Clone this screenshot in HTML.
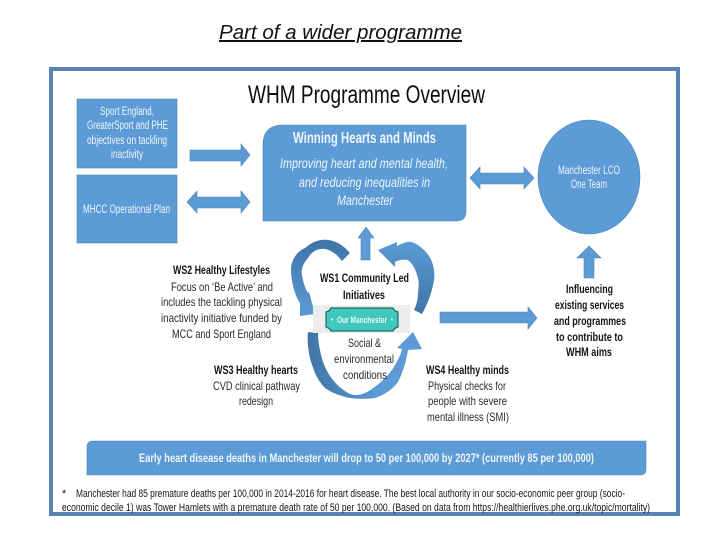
<!DOCTYPE html>
<html>
<head>
<meta charset="utf-8">
<style>
html,body{margin:0;padding:0;background:#fff;width:720px;height:540px;overflow:hidden}
svg{display:block}
text{font-family:"Liberation Sans",sans-serif}
.w{fill:#eef5fb}
.k{fill:#141414}
.g{fill:#2a2a2a}
.b{font-weight:bold}
.s{fill:#5b9bd5;stroke:#4a84b8;stroke-width:.6}
</style>
</head>
<body>
<svg width="720" height="540" viewBox="0 0 720 540" xmlns="http://www.w3.org/2000/svg">
<defs>
<linearGradient id="d" x1="0" y1="1" x2="0" y2="0"><stop offset="0" stop-color="#5b9bd5"/><stop offset="1" stop-color="#3f74a6"/></linearGradient>
<linearGradient id="r" x1="0" y1="0" x2="0" y2="1"><stop offset="0" stop-color="#5b9bd5"/><stop offset="1" stop-color="#3f74a6"/></linearGradient>
<linearGradient id="u" x1="0" y1="0" x2="1" y2="0"><stop offset="0" stop-color="#3f74a6"/><stop offset=".6" stop-color="#5b9bd5"/></linearGradient>
<filter id="bl" x="-5%" y="-5%" width="110%" height="110%"><feGaussianBlur stdDeviation="0.3"/></filter>
</defs>

<text x="219" y="39" font-size="20" font-style="italic" text-decoration="underline" fill="#111" textLength="243" lengthAdjust="spacingAndGlyphs">Part of a wider programme</text>

<rect x="51" y="69" width="627" height="445" fill="#fff" stroke="#5a83b4" stroke-width="4"/>

<g filter="url(#bl)">
<text x="248" y="103" font-size="25" fill="#111" textLength="237" lengthAdjust="spacingAndGlyphs">WHM Programme Overview</text>

<!-- left boxes -->
<rect x="77" y="99" width="100" height="69" class="s"/>
<rect x="77" y="175" width="100" height="68" class="s"/>
<g class="w" font-size="11.5">
<text x="100" y="115" textLength="54" lengthAdjust="spacingAndGlyphs">Sport England,</text>
<text x="87" y="129" textLength="81" lengthAdjust="spacingAndGlyphs">GreaterSport and PHE</text>
<text x="87" y="144" textLength="80" lengthAdjust="spacingAndGlyphs">objectives on tackling</text>
<text x="111" y="158" textLength="32" lengthAdjust="spacingAndGlyphs">inactivity</text>
<text x="83" y="213" textLength="87" lengthAdjust="spacingAndGlyphs">MHCC Operational Plan</text>
</g>

<!-- arrows -->
<polygon class="s" points="190,150 241,150 241,144 250,155 241,166 241,161 190,161"/>
<polygon class="s" points="187,202 197,191 197,197 241,197 241,191 250,202 241,213 241,208 197,208 197,213"/>
<polygon class="s" points="470,178 480,167 480,173 524,173 524,167 534,178 524,189 524,184 480,184 480,189"/>
<polygon class="s" points="440,312 528,312 528,307 537,318 528,329 528,323 440,323"/>
<polygon class="s" points="589,246 601,258 594,258 594,278 584,278 584,258 577,258"/>
<polygon class="s" points="366,227 374,238 370,238 370,260 361,260 361,238 358,238"/>

<!-- main box -->
<path d="M283,125 H466 V211 Q466,221 456,221 H263 V145 Q263,125 283,125 Z" class="s"/>
<text x="293" y="143" font-size="16" class="w b" textLength="143" lengthAdjust="spacingAndGlyphs">Winning Hearts and Minds</text>
<g class="w" font-size="13.5" font-style="italic">
<text x="280" y="168" textLength="168" lengthAdjust="spacingAndGlyphs">Improving heart and mental health,</text>
<text x="299" y="187" textLength="131" lengthAdjust="spacingAndGlyphs">and reducing inequalities in</text>
<text x="337" y="205" textLength="56" lengthAdjust="spacingAndGlyphs">Manchester</text>
</g>

<!-- circle -->
<ellipse cx="589" cy="177" rx="51" ry="57" class="s"/>
<text x="558" y="174" font-size="11.5" class="w" textLength="62" lengthAdjust="spacingAndGlyphs">Manchester LCO</text>
<text x="571" y="188" font-size="11.5" class="w" textLength="36" lengthAdjust="spacingAndGlyphs">One Team</text>

<!-- curved arrows -->
<path fill="url(#d)" d="M350,253 L342,261 C336,253 330,250 325,249 C316,248 311,253 308,258 C302,265 301,270 302,275 C303,282 305,288 308,293 L309,292 L315,314 L300,316 L300,303 C295,296 291,282 291,268 C292,258 298,251 305,248 C313,241 321,239 328,240 C337,241 344,246 350,253 Z"/>
<path fill="url(#r)" d="M378,250 L397,242 L397,246 C403,243 408,241 412,242 C422,246 429,254 432,262 C435,270 435,278 433,285 C431,295 427,305 422,314 L414,310 C417,304 418,298 418,292 C419,285 419,280 417,275 C415,268 412,263 408,260 C404,259 399,260 395,262 L395,267 Z"/>
<path fill="url(#u)" d="M308,332 L318,333 C318,342 320,352 323,362 C328,376 337,386 345,391 C349,394 352,395 356,395 C362,395 368,392 373,388 C382,382 390,374 395,365 C398,360 401,354 402,349 L397,348 L413,332 L422,349 L408,350 C406,362 403,372 398,382 C392,390 384,395 375,398 C367,399 358,399 350,398 C340,396 332,393 325,388 C317,380 313,369 310,358 C308,349 307,340 308,332 Z"/>

<!-- centre plaque -->
<rect x="313" y="305" width="97" height="28" fill="#ececec"/>
<path d="M331,308 H393 Q394,311 398,312 V327 Q394,328 393,331 H331 Q330,328 326,327 V312 Q330,311 331,308 Z" fill="#41c8bc" stroke="#1f6a66" stroke-width="1.2"/>
<circle cx="332" cy="319.5" r="1" fill="#e8f8f6"/><circle cx="392" cy="319.5" r="1" fill="#e8f8f6"/>
<text x="337" y="323" font-size="9.5" class="b" fill="#e8f8f6" textLength="50" lengthAdjust="spacingAndGlyphs">Our Manchester</text>

<!-- labels -->
<g font-size="12">
<text x="173" y="274" class="k b" textLength="97" lengthAdjust="spacingAndGlyphs">WS2 Healthy Lifestyles</text>
<text x="171" y="291" class="g" textLength="102" lengthAdjust="spacingAndGlyphs">Focus on ‘Be Active’ and</text>
<text x="161" y="306" class="g" textLength="121" lengthAdjust="spacingAndGlyphs">includes the tackling physical</text>
<text x="161" y="322" class="g" textLength="121" lengthAdjust="spacingAndGlyphs">inactivity initiative funded by</text>
<text x="172" y="338" class="g" textLength="99" lengthAdjust="spacingAndGlyphs">MCC and Sport England</text>

<text x="320" y="282" class="k b" textLength="89" lengthAdjust="spacingAndGlyphs">WS1 Community Led</text>
<text x="343" y="299" class="k b" textLength="42" lengthAdjust="spacingAndGlyphs">Initiatives</text>
<text x="348" y="347" class="g" textLength="33" lengthAdjust="spacingAndGlyphs">Social &amp;</text>
<text x="334" y="363" class="g" textLength="60" lengthAdjust="spacingAndGlyphs">environmental</text>
<text x="343" y="379" class="g" textLength="44" lengthAdjust="spacingAndGlyphs">conditions</text>

<text x="214" y="374" class="k b" textLength="84" lengthAdjust="spacingAndGlyphs">WS3 Healthy hearts</text>
<text x="213" y="390" class="g" textLength="87" lengthAdjust="spacingAndGlyphs">CVD clinical pathway</text>
<text x="239" y="405" class="g" textLength="34" lengthAdjust="spacingAndGlyphs">redesign</text>

<text x="426" y="374" class="k b" textLength="83" lengthAdjust="spacingAndGlyphs">WS4 Healthy minds</text>
<text x="428" y="390" class="g" textLength="78" lengthAdjust="spacingAndGlyphs">Physical checks for</text>
<text x="428" y="405" class="g" textLength="79" lengthAdjust="spacingAndGlyphs">people with severe</text>
<text x="427" y="421" class="g" textLength="82" lengthAdjust="spacingAndGlyphs">mental illness (SMI)</text>

<text x="566" y="293" class="k b" textLength="47" lengthAdjust="spacingAndGlyphs">Influencing</text>
<text x="555" y="309" class="k b" textLength="69" lengthAdjust="spacingAndGlyphs">existing services</text>
<text x="554" y="325" class="k b" textLength="72" lengthAdjust="spacingAndGlyphs">and programmes</text>
<text x="556" y="341" class="k b" textLength="67" lengthAdjust="spacingAndGlyphs">to contribute to</text>
<text x="566" y="356" class="k b" textLength="46" lengthAdjust="spacingAndGlyphs">WHM aims</text>
</g>

<!-- bottom bar -->
<path d="M93,441 H646 V469 Q646,475 640,475 H87 V447 Q87,441 93,441 Z" class="s"/>
<text x="139" y="462" font-size="12" class="w b" textLength="455" lengthAdjust="spacingAndGlyphs">Early heart disease deaths in Manchester will drop to 50 per 100,000 by 2027* (currently 85 per 100,000)</text>

<!-- footnote -->
<g font-size="11" class="k">
<text x="62" y="497">*</text>
<text x="76" y="497" textLength="549" lengthAdjust="spacingAndGlyphs">Manchester had 85 premature deaths per 100,000 in 2014-2016 for heart disease. The best local authority in our socio-economic peer group (socio-</text>
<text x="62" y="511" textLength="588" lengthAdjust="spacingAndGlyphs">economic decile 1) was Tower Hamlets with a premature death rate of 50 per 100,000. (Based on data from https://healthierlives.phe.org.uk/topic/mortality)</text>
</g>
</g>
</svg>
</body>
</html>
